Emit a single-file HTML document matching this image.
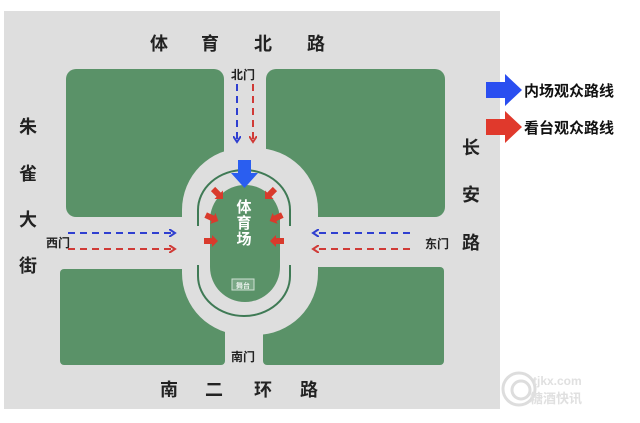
<!DOCTYPE html>
<html><head><meta charset="utf-8"><style>
body{margin:0;width:640px;height:423px;background:#fff;overflow:hidden}
svg{display:block}
text{font-family:"Liberation Sans","Noto Sans CJK SC",sans-serif;font-weight:bold}
</style></head><body>
<svg width="640" height="423" viewBox="0 0 640 423">
<defs>
<marker id="bh" markerWidth="8" markerHeight="8" refX="6" refY="4" orient="auto" markerUnits="userSpaceOnUse"><path d="M0,0 L6,4 L0,8" fill="none" stroke="#2f3fd0" stroke-width="2"/></marker>
<marker id="rh" markerWidth="8" markerHeight="8" refX="6" refY="4" orient="auto" markerUnits="userSpaceOnUse"><path d="M0,0 L6,4 L0,8" fill="none" stroke="#d03a36" stroke-width="2"/></marker>
</defs>
<rect x="4" y="11" width="496" height="398" fill="#dedede"/>
<g fill="#5a9268">
<rect x="66" y="69" width="158" height="148" rx="10"/>
<rect x="266" y="69" width="179" height="148" rx="10"/>
<rect x="60" y="269" width="165" height="96" rx="4"/>
<rect x="263" y="267" width="181" height="98" rx="4"/>
</g>
<rect x="182" y="148" width="136" height="187" rx="62" fill="#dedede"/>
<rect x="210" y="185" width="70" height="117" rx="35" fill="#5a9268"/>
<path d="M198,226 V210 A46,40 0 0 1 290,210 V226" fill="none" stroke="#3f7a55" stroke-width="2"/>
<path d="M198,265 V276 A46,40 0 0 0 290,276 V265" fill="none" stroke="#3f7a55" stroke-width="2"/>
<rect x="232" y="279" width="22" height="11" fill="#7aa886" stroke="#cfe0d3" stroke-width="1"/>
<text x="243" y="288" font-size="7" fill="#e8f0ea" text-anchor="middle" font-weight="normal">舞台</text>
<g fill="#fff" font-size="15" text-anchor="middle">
<text x="244" y="212">体</text><text x="244" y="228">育</text><text x="244" y="244">场</text>
</g>
<polygon points="238,160 251,160 251,173 258,173 244.5,188 231,173 238,173" fill="#2a5ef0"/>
<g fill="#d93a2c">
<g transform="translate(218,194) rotate(45)"><polygon points="-7,-3 1,-3 1,-6 7,0 1,6 1,3 -7,3"/></g>
<g transform="translate(270,194) rotate(135)"><polygon points="-7,-3 1,-3 1,-6 7,0 1,6 1,3 -7,3"/></g>
<g transform="translate(212,218) rotate(25)"><polygon points="-7,-3 1,-3 1,-6 7,0 1,6 1,3 -7,3"/></g>
<g transform="translate(276,218) rotate(155)"><polygon points="-7,-3 1,-3 1,-6 7,0 1,6 1,3 -7,3"/></g>
<g transform="translate(211,241)"><polygon points="-7,-3 1,-3 1,-6 7,0 1,6 1,3 -7,3"/></g>
<g transform="translate(277,241) rotate(180)"><polygon points="-7,-3 1,-3 1,-6 7,0 1,6 1,3 -7,3"/></g>
</g>
<g stroke-width="2" stroke-dasharray="7,5" fill="none">
<line x1="237" y1="84" x2="237" y2="142" stroke="#2f3fd0" marker-end="url(#bh)"/>
<line x1="253" y1="84" x2="253" y2="142" stroke="#d03a36" marker-end="url(#rh)"/>
<line x1="68" y1="233" x2="175" y2="233" stroke="#2f3fd0" marker-end="url(#bh)"/>
<line x1="68" y1="249" x2="175" y2="249" stroke="#d03a36" marker-end="url(#rh)"/>
<line x1="410" y1="233" x2="313" y2="233" stroke="#2f3fd0" marker-end="url(#bh)"/>
<line x1="410" y1="249" x2="313" y2="249" stroke="#d03a36" marker-end="url(#rh)"/>
</g>
<g fill="#222" font-size="12" font-weight="normal">
<text x="231" y="79">北门</text>
<text x="46" y="247">西门</text>
<text x="425" y="248">东门</text>
<text x="231" y="361">南门</text>
</g>
<g fill="#222" font-size="18" text-anchor="middle">
<text x="159" y="50">体</text><text x="210" y="50">育</text><text x="263" y="50">北</text><text x="316" y="50">路</text>
<text x="169" y="396">南</text><text x="214" y="396">二</text><text x="263" y="396">环</text><text x="309" y="396">路</text>
<text x="28" y="133">朱</text><text x="28" y="180">雀</text><text x="28" y="226">大</text><text x="28" y="272">街</text>
<text x="471" y="154">长</text><text x="471" y="201">安</text><text x="471" y="249">路</text>
</g>
<polygon points="486,82 505,82 505,74 522,90 505,106 505,98 486,98" fill="#2a4ef0"/>
<polygon points="486,119 505,119 505,111 522,127 505,143 505,135 486,135" fill="#e0392c"/>
<g fill="#111" font-size="15" font-weight="normal">
<text x="524" y="96">内场观众路线</text>
<text x="524" y="133">看台观众路线</text>
</g>
<g fill="none" stroke="#ddd" stroke-width="3">
<circle cx="519" cy="389" r="16"/><circle cx="521" cy="390" r="9"/>
</g>
<text x="533" y="385" font-size="12" fill="#e0e0e0">tjkx.com</text>
<text x="530" y="403" font-size="13" fill="#e0e0e0">糖酒快讯</text>
</svg>
</body></html>
